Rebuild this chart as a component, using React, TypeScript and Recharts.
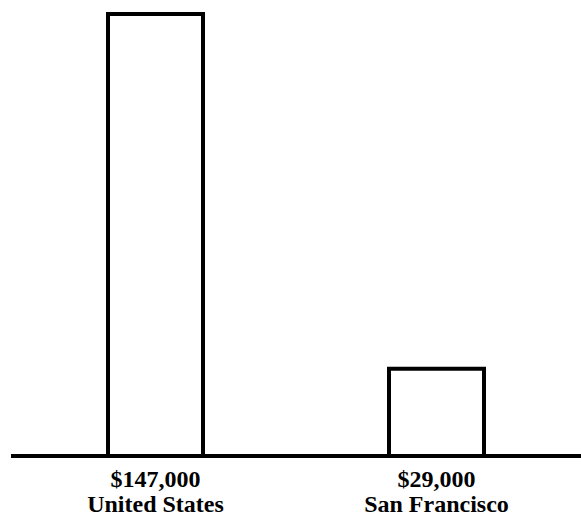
import { Bar, BarChart, XAxis, YAxis } from 'recharts';

// Chart data
const categories = ['United States', 'San Francisco'];
const values = [147000, 29000];
const valueLabels = ['$147,000', '$29,000'];

const data = categories.map((name, i) => ({ name, value: values[i], label: valueLabels[i] }));

// Two-line tick: money amount above, place name below
const CategoryTick = (props: any) => {
	const { x, y, payload, index } = props;
	return (
		<g>
			<text
				x={x}
				y={y + 23}
				textAnchor='middle'
				fontFamily='Liberation Serif, serif'
				fontWeight='bold'
				fontSize={24}
				fill='#000'
			>
				{valueLabels[index]}
			</text>
			<text
				x={x}
				y={y + 48}
				textAnchor='middle'
				fontFamily='Liberation Serif, serif'
				fontWeight='bold'
				fontSize={24}
				fill='#000'
			>
				{payload.value}
			</text>
		</g>
	);
};

export default function App() {
	return (
		<div style={{ position: 'absolute', left: 0, top: 0, background: '#fff' }}>
			<BarChart
				width={581}
				height={519}
				data={data}
				margin={{ top: 14, right: 0, bottom: 0, left: 11 }}
				barCategoryGap={0}
			>
				<XAxis
					dataKey='name'
					axisLine={{ stroke: '#000', strokeWidth: 4 }}
					tickLine={false}
					height={63}
					padding={{ left: 4, right: 4 }}
					tick={<CategoryTick />}
					interval={0}
				/>
				<YAxis hide domain={[0, 147000]} />
				<Bar
					dataKey='value'
					fill='#fff'
					stroke='#000'
					strokeWidth={4}
					barSize={95}
					isAnimationActive={false}
				/>
			</BarChart>
		</div>
	);
}
